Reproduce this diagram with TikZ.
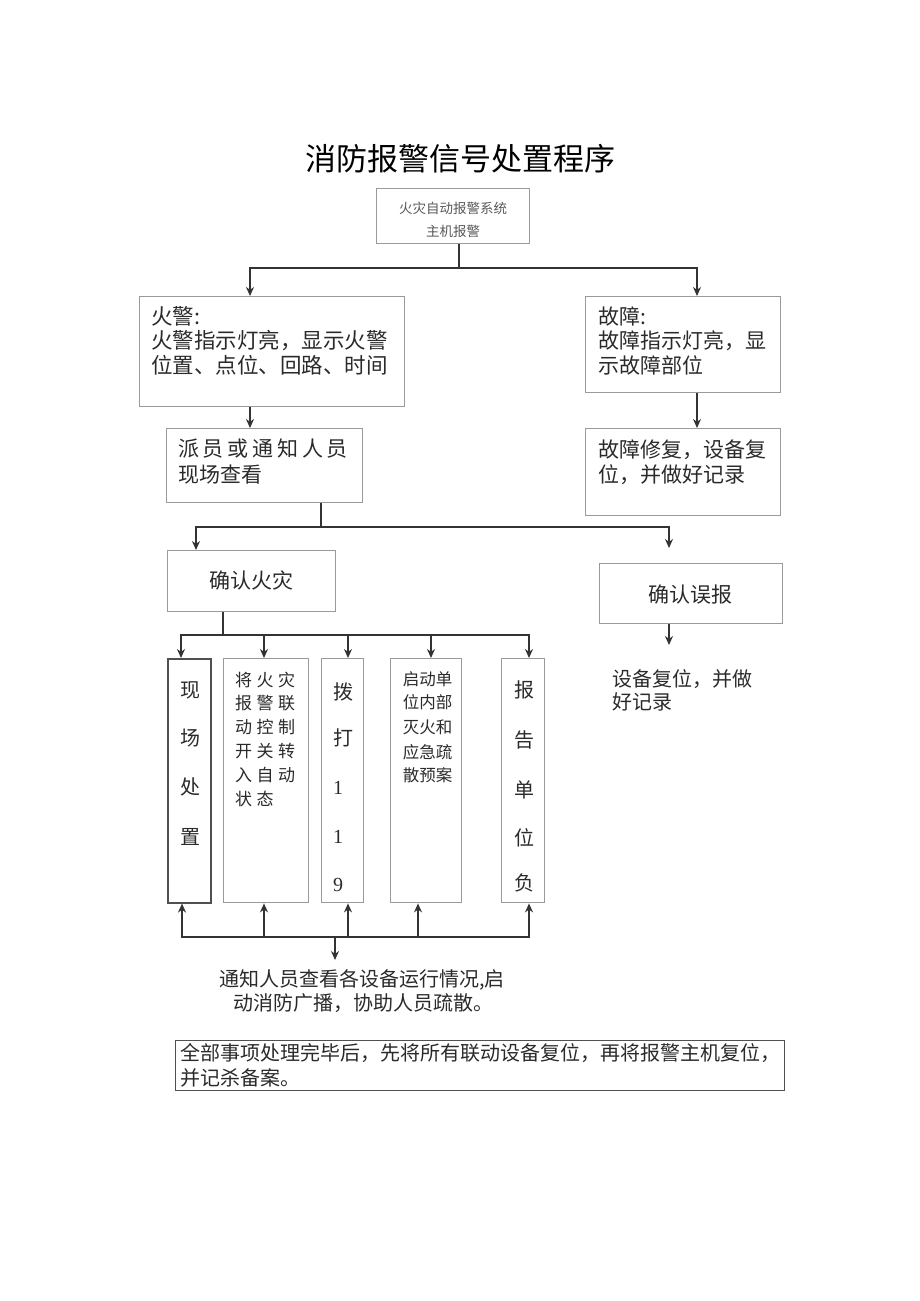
\documentclass[tikz,border=0pt]{standalone}
\usepackage{fontspec}
\setmainfont{Noto Sans CJK SC}
\newfontfamily\latserif{Liberation Serif}
\usetikzlibrary{arrows.meta}
\definecolor{boxc}{HTML}{9A9A9A}
\definecolor{darkbox}{HTML}{505050}
\definecolor{linec}{HTML}{333333}
\definecolor{txtc}{HTML}{2A2A2A}
\begin{document}
\begin{tikzpicture}[x=1pt,y=-1pt,
  box/.style={draw=boxc, line width=1.4pt, inner sep=0pt, anchor=north west},
  ln/.style={draw=linec, line width=1.8pt},
  arr/.style={ln, -{Stealth[length=9pt,width=8pt]}},
  txt/.style={anchor=base west, inner sep=0pt, text=txtc},
  ctxt/.style={anchor=base, inner sep=0pt, text=txtc},
  fbig/.style={font=\fontsize{21.5}{24}\selectfont},
  fmid/.style={font=\fontsize{20}{24}\selectfont},
]
\useasboundingbox (0,0) rectangle (920,1301);

% title
\node[ctxt, font=\fontsize{31}{31}\selectfont, text=black] (title) at (460,170) {消防报警信号处置程序};

% boxes
\node[box, minimum width=153pt, minimum height=55pt] (top) at (376,188) {};
\node[box, minimum width=265pt, minimum height=110pt] (fire) at (139,296) {};
\node[box, minimum width=195pt, minimum height=96pt] (fault) at (585,296) {};
\node[box, minimum width=196pt, minimum height=74pt] (dispatch) at (166,428) {};
\node[box, minimum width=195pt, minimum height=87pt] (repair) at (585,428) {};
\node[box, minimum width=168pt, minimum height=61pt] (cfire) at (167,550) {};
\node[box, minimum width=183pt, minimum height=60pt] (cfalse) at (599,563) {};
\node[box, draw=darkbox, line width=1.6pt, minimum width=43pt, minimum height=244pt] (colA) at (167,658) {};
\node[box, minimum width=85pt, minimum height=244pt] (colB) at (223,658) {};
\node[box, minimum width=42pt, minimum height=244pt] (colC) at (321,658) {};
\node[box, minimum width=71pt, minimum height=244pt] (colD) at (390,658) {};
\node[box, minimum width=43pt, minimum height=244pt] (colE) at (501,658) {};
\node[box, draw=darkbox, line width=1.2pt, minimum width=609pt, minimum height=50pt] (final) at (175,1040) {};

% texts
\node[ctxt, font=\fontsize{13.5}{14}\selectfont, text=black!65] (toptxt1) at (453,213) {火灾自动报警系统};
\node[ctxt, font=\fontsize{13.5}{14}\selectfont, text=black!65] (toptxt2) at (453,236) {主机报警};

\node[txt, fbig] (fire1) at (151,324) {火警:};
\node[txt, fbig] (fire2) at (151,348.5) {火警指示灯亮，显示火警};
\node[txt, fbig] (fire3) at (151,373) {位置、点位、回路、时间};

\node[txt, font=\fontsize{21}{24}\selectfont] (fault1) at (598,324) {故障:};
\node[txt, font=\fontsize{21}{24}\selectfont] (fault2) at (598,348.5) {故障指示灯亮，显};
\node[txt, font=\fontsize{21}{24}\selectfont] (fault3) at (598,373) {示故障部位};

\node[txt, font=\fontsize{21}{24}\selectfont\addfontfeature{LetterSpace=18}] (disp1) at (178,456) {派员或通知人员};
\node[txt, font=\fontsize{21}{24}\selectfont] (disp2) at (178,482) {现场查看};

\node[txt, font=\fontsize{21}{24}\selectfont] (rep1) at (598,457) {故障修复，设备复};
\node[txt, font=\fontsize{21}{24}\selectfont] (rep2) at (598,482) {位，并做好记录};

\node[ctxt, font=\fontsize{21}{24}\selectfont] (cfiretxt) at (251,588) {确认火灾};
\node[ctxt, font=\fontsize{21}{24}\selectfont] (cfalsetxt) at (690.5,602) {确认误报};

\node[txt, fmid] (reset1) at (612,686) {设备复位，并做};
\node[txt, fmid] (reset2) at (612,709) {好记录};

% column A
\node[ctxt, fmid] (a1) at (190,697.5) {现};
\node[ctxt, fmid] (a2) at (190,745.5) {场};
\node[ctxt, fmid] (a3) at (190,794.5) {处};
\node[ctxt, fmid] (a4) at (190,844.5) {置};
% column B
\begin{scope}[every node/.style={txt, font=\fontsize{17}{20}\selectfont\addfontfeature{LetterSpace=26}}]
\node (b1) at (235,686.5) {将火灾};
\node (b2) at (235,709.5) {报警联};
\node (b3) at (235,733.5) {动控制};
\node (b4) at (235,757.5) {开关转};
\node (b5) at (235,781.5) {入自动};
\node (b6) at (235,805.5) {状态};
\end{scope}
% column C
\node[ctxt, fmid] (c1) at (343,699.5) {拨};
\node[ctxt, fmid] (c2) at (343,745.5) {打};
\node[ctxt, font=\latserif\fontsize{20}{24}\selectfont] (c3) at (338,794.5) {1};
\node[ctxt, font=\latserif\fontsize{20}{24}\selectfont] (c4) at (338,843.5) {1};
\node[ctxt, font=\latserif\fontsize{20}{24}\selectfont] (c5) at (338,891.5) {9};
% column D
\begin{scope}[every node/.style={ctxt, font=\fontsize{16.5}{20}\selectfont}]
\node (d1) at (427.5,685.3) {启动单};
\node (d2) at (427.5,708.3) {位内部};
\node (d3) at (427.5,733.3) {灭火和};
\node (d4) at (427.5,758.3) {应急疏};
\node (d5) at (427.5,781.3) {散预案};
\end{scope}
% column E
\node[ctxt, fmid] (e1) at (524,697.6) {报};
\node[ctxt, fmid] (e2) at (524,747.6) {告};
\node[ctxt, fmid] (e3) at (524,797.6) {单};
\node[ctxt, fmid] (e4) at (524,845.6) {位};
\node[ctxt, fmid] (e5) at (524,890.6) {负};

\node[txt, fmid] (note1) at (219,986.5) {通知人员查看各设备运行情况,启};
\node[txt, fmid] (note2) at (233,1010.5) {动消防广播，协助人员疏散。};

\node[txt, fmid] (fin1) at (180,1060.5) {全部事项处理完毕后，先将所有联动设备复位，再将报警主机复位，};
\node[txt, fmid] (fin2) at (180,1085) {并记杀备案。};

% connectors
\coordinate (j1) at (459,268);
\coordinate (j1l) at (250,268);
\coordinate (j1r) at (697,268);
\draw[ln] (top.south -| j1) -- (j1);
\draw[arr] (j1) -| (j1l |- fire.north);
\draw[arr] (j1) -| (j1r |- fault.north);
\draw[arr] (fire.south -| j1l) -- (dispatch.north -| j1l);
\draw[arr] (fault.south -| j1r) -- (repair.north -| j1r);

\coordinate (j2) at (321,527);
\coordinate (j2l) at (196,527);
\coordinate (fend) at (669,548);
\draw[ln] (dispatch.south -| j2) -- (j2);
\draw[arr] (j2) -| (j2l |- cfire.north);
\draw[arr] (j2) -| (fend);

\coordinate (fend2) at (669,645);
\draw[arr] (cfalse.south -| fend2) -- (fend2);

\coordinate (j3) at (223,635);
\coordinate (ta) at (181,635);
\coordinate (tb) at (264,635);
\coordinate (tc) at (348,635);
\coordinate (td) at (431,635);
\coordinate (te) at (529,635);
\draw[ln] (cfire.south -| j3) -- (j3);
\draw[arr] (j3) -| (ta |- colA.north);
\draw[arr] (j3) -| (te |- colE.north);
\draw[arr] (tb) -- (tb |- colB.north);
\draw[arr] (tc) -- (tc |- colC.north);
\draw[arr] (td) -- (td |- colD.north);

\coordinate (bm) at (335,937);
\coordinate (ba) at (182,937);
\coordinate (bb) at (264,937);
\coordinate (bc) at (348,937);
\coordinate (bd) at (418,937);
\coordinate (be) at (529,937);
\coordinate (bend) at (335,960);
\draw[arr] (bm) -| (ba |- colA.south);
\draw[arr] (bm) -| (be |- colE.south);
\draw[arr] (bb) -- (bb |- colB.south);
\draw[arr] (bc) -- (bc |- colC.south);
\draw[arr] (bd) -- (bd |- colD.south);
\draw[arr] (bm) -- (bend);
\end{tikzpicture}
\end{document}
